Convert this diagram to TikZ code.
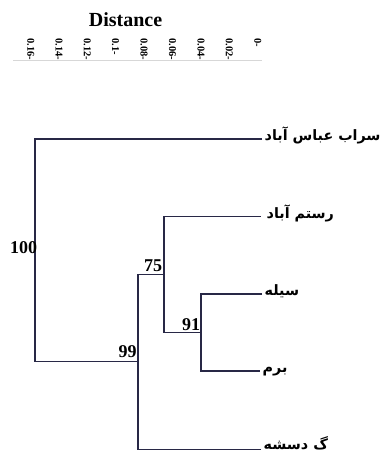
\documentclass[tikz,border=0pt]{standalone}
\usepackage{fontspec}
\setmainfont{Liberation Serif}
\newfontfamily\persfont[Script=Arabic]{DejaVu Sans}
\TeXXeTstate=1
\definecolor{treeline}{RGB}{40,40,70}
\definecolor{axisgray}{RGB}{215,215,215}
\tikzset{
  branch/.style={draw=treeline, line width=1.1pt},
  leaflabel/.style={anchor=base west, inner sep=0pt, xshift=2.5pt, font=\persfont\bfseries\fontsize{14.3}{16}\selectfont},
  support/.style={inner sep=0pt, font=\bfseries\fontsize{18}{20}\selectfont},
  ticklabel/.style={rotate=-90, anchor=west, inner sep=0pt, font=\bfseries\fontsize{10.5}{12}\selectfont}
}
\begin{document}
\begin{tikzpicture}[x=1pt,y=-1pt]
\useasboundingbox (0,0) rectangle (385,452);
% axis
\node[inner sep=0pt, font=\bfseries\fontsize{20}{22}\selectfont] (dist) at (125.5,20) {Distance};
\coordinate (axl) at (13,61);
\coordinate (axr) at (262,61);
\draw[axisgray, line width=1pt] (axl) -- (axr);
\foreach \lab/\xx [count=\i] in {0.16-/30.7,0.14-/59,0.12-/87.3,0.1-/115.5,0.08-/144,0.06-/172.5,0.04-/201,0.02-/229.3,0-/257.7}
  \node[ticklabel] (t\i) at (\xx,38) {\lab};
% leaves (baseline slightly below the branch line)
\node[leaflabel] (sarab) at (262,140.5) {\beginR سراب عباس آباد\endR};
\node[leaflabel] (rostam) at (264,218.2) {\beginR رستم آباد\endR};
\node[leaflabel] (seeleh) at (262,295.5) {\beginR سیله\endR};
\node[leaflabel] (borm) at (260,372) {\beginR برم\endR};
\node[leaflabel] (gard) at (261,449.8) {\beginR گ دسشه\endR};
% internal nodes
\coordinate (c91) at (201,332.5);
\coordinate (c75) at (164,274.5);
\coordinate (c99) at (138,361.5);
\coordinate (croot) at (35,250);
\draw[branch] ([shift={(-2.5pt,1.5pt)}]seeleh.base west) -| (c91) |- ([shift={(-2.5pt,1pt)}]borm.base west);
\draw[branch] ([shift={(-6pt,1.5pt)}]rostam.base west) -| (c75) |- (c91);
\draw[branch] (c75) -| (c99) |- ([shift={(-2.5pt,0.6pt)}]gard.base west);
\draw[branch] ([shift={(-2.5pt,1.5pt)}]sarab.base west) -| (croot) |- (c99);
% support values
\node[support] (s100) at (23.5,248) {100};
\node[support] (s75) at (153,266) {75};
\node[support] (s99) at (127.5,351.5) {99};
\node[support] (s91) at (191,324.5) {91};
\end{tikzpicture}
\end{document}
